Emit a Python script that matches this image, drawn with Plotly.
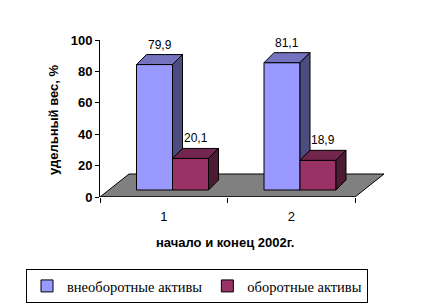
import plotly.graph_objects as go

# ---- data ----
categories = ["1", "2"]
series_names = ["внеоборотные активы", "оборотные активы"]
non_current = [79.9, 81.1]
current = [20.1, 18.9]
y_ticks = [0, 20, 40, 60, 80, 100]
x_title = "начало и конец 2002г."
y_title = "удельный вес, %"

# ---- styling / pseudo-3D geometry (axis units) ----
PX_X = 127.5   # px per category
PX_Y = 1.57    # px per percent
BAR_W = 36 / PX_X
BAR_OFF = 36.5 / PX_X
DX = 10 / PX_X
DY = 10 / PX_Y
BASE = 7 / PX_Y
FLOOR_DX = 29 / PX_X
FLOOR_DY = 23 / PX_Y

front_cols = ["#9999FF", "#993366"]
top_cols = ["#7373BF", "#73264D"]
side_cols = ["#4C4C80", "#4D1A33"]

xpos = list(range(len(categories)))
series = [non_current, current]

fig = go.Figure()

# front faces as real bars
for s, (vals, name) in enumerate(zip(series, series_names)):
    fig.add_bar(
        x=xpos, y=vals, base=BASE, offset=BAR_OFF + s * BAR_W, width=BAR_W,
        name=name, marker=dict(color=front_cols[s], line=dict(color="black", width=1)),
        hoverinfo="skip",
    )

# top and side faces
for i, xc in enumerate(xpos):
    for s, vals in enumerate(series):
        v = vals[i]
        x0 = xc + BAR_OFF + s * BAR_W
        x1 = x0 + BAR_W
        top = BASE + v
        fig.add_scatter(
            x=[x0, x0 + DX, x1 + DX, x1, x0], y=[top, top + DY, top + DY, top, top],
            mode="lines", fill="toself", fillcolor=top_cols[s],
            line=dict(color="black", width=1), showlegend=False, hoverinfo="skip",
        )
        low = BASE
        if s + 1 < len(series):
            low = BASE + series[s + 1][i]
        fig.add_scatter(
            x=[x1, x1, x1 + DX, x1 + DX, x1], y=[low, top, top + DY, low + DY, low],
            mode="lines", fill="toself", fillcolor=side_cols[s],
            line=dict(color="black", width=1), showlegend=False, hoverinfo="skip",
        )
        fig.add_annotation(
            x=(x0 + x1) / 2 + DX / 2, y=top + DY, text=f"{v:.1f}".replace(".", ","),
            showarrow=False, xanchor="center", yanchor="bottom", yshift=1,
            font=dict(family="Liberation Sans", size=12, color="black"),
        )

n = len(categories)
fig.add_shape(
    type="path", xref="x", yref="y", layer="below",
    path=f"M 0 0 L {n} 0 L {n + FLOOR_DX} {FLOOR_DY} L {FLOOR_DX} {FLOOR_DY} Z",
    fillcolor="#808080", line=dict(color="black", width=1),
)
fig.add_shape(type="line", xref="x", yref="y", x0=0, x1=n, y0=0, y1=0,
              line=dict(color="black", width=1), layer="above")

xmax = 290 / PX_X
fig.update_layout(
    width=424, height=306, margin=dict(l=100, r=34, t=40, b=109, autoexpand=False),
    paper_bgcolor="white", plot_bgcolor="rgba(0,0,0,0)",
    barmode="overlay", showlegend=True,
    xaxis=dict(
        range=[0, xmax], showgrid=False, zeroline=False, showline=False,
        tickmode="array", tickvals=[x + 0.5 for x in xpos], ticktext=categories,
        ticks="outside", ticklen=7, tickcolor="rgba(0,0,0,0)",
        tickfont=dict(family="Liberation Sans", size=13, color="black"),
        minor=dict(tickmode="array", tickvals=list(range(n + 1)), ticks="outside",
                   ticklen=5, tickcolor="black", showgrid=False),
    ),
    yaxis=dict(
        range=[0, 100], tickvals=y_ticks, showgrid=False, zeroline=False,
        showline=True, linecolor="black", linewidth=1,
        ticks="outside", ticklen=4, tickcolor="black",
        tickfont=dict(family="Liberation Sans", size=13, color="black", weight="bold"),
    ),
    legend=dict(
        orientation="h", xref="paper", yref="paper",
        x=(26 - 100) / 290, xanchor="left", y=(197 - 269) / 157, yanchor="top",
        bordercolor="black", borderwidth=1, bgcolor="white",
        font=dict(family="Liberation Serif", size=14.5, color="black"),
    ),
)

fig.add_annotation(
    xref="paper", yref="paper", x=(225 - 100) / 290, y=(197 - 242) / 157,
    xanchor="center", yanchor="middle",
    text=x_title, showarrow=False,
    font=dict(family="Liberation Sans", size=13, color="black", weight="bold"),
)
fig.add_annotation(
    xref="paper", yref="paper", x=(53 - 100) / 290, y=(197 - 120) / 157,
    xanchor="center", yanchor="middle",
    text=y_title, showarrow=False, textangle=-90,
    font=dict(family="Liberation Sans", size=13, color="black", weight="bold"),
)

fig.write_html("out.html")
